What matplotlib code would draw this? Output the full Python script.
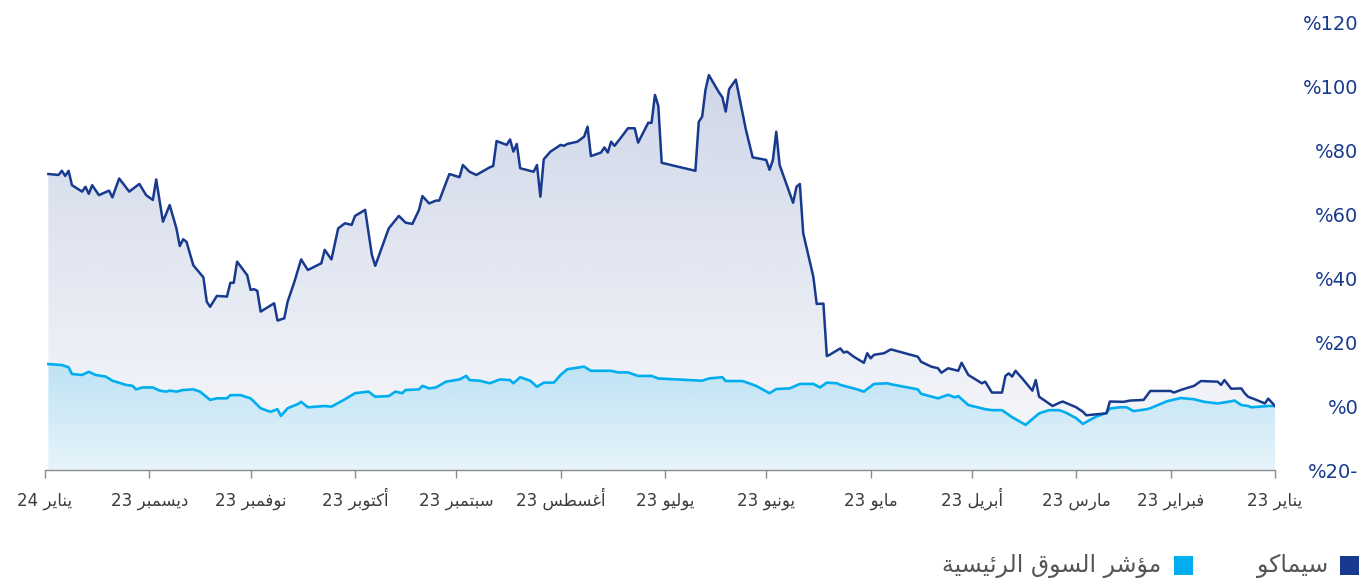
import numpy as np
import matplotlib
matplotlib.use("Agg")
import matplotlib.pyplot as plt
import matplotlib.dates as mdates
from matplotlib.colors import to_rgb
from matplotlib.patches import Rectangle

# ---------------- data (days since 2023-01-01, cumulative % change) ----------------
cemaco_days = [0, 2, 3, 6, 8, 9, 10, 13, 15, 16, 17, 22, 24, 28, 30, 31, 37, 39, 43, 45,
               49, 50, 56, 57, 59, 63, 64, 66, 70, 71, 72, 75, 77, 78, 79, 80, 81, 84, 86, 87,
               91, 93, 94, 97, 99, 100, 102, 105, 106, 114, 116, 119, 120, 121, 122, 125, 127, 128, 129, 132,
               133, 134, 136, 137, 140, 141, 142, 143, 147, 148, 149, 150, 151, 155, 157, 160, 162, 163, 164, 165,
               168, 169, 170, 171, 172, 182, 183, 184, 185, 186, 189, 190, 192, 194, 196, 197, 198, 199, 200, 203,
               204, 205, 207, 210, 211, 212, 215, 217, 218, 219, 220, 224, 225, 226, 227, 228, 231, 232, 233, 237,
               239, 241, 242, 245, 248, 249, 251, 253, 254, 256, 258, 260, 263, 267, 268, 270, 273, 274, 276, 278,
               280, 282, 283, 287, 289, 291, 293, 294, 296, 297, 301, 302, 303, 304, 305, 308, 309, 310, 311, 314,
               316, 317, 318, 321, 323, 324, 325, 326, 328, 330, 332, 333, 335, 337, 340, 343, 345, 346, 349, 351,
               352, 353, 354, 357, 358, 359, 360, 361, 364]
cemaco_vals = [0.0, 2.3, 0.8, 2.1, 2.9, 4.0, 5.5, 5.4, 8.1, 6.6, 7.6, 7.8, 6.3, 5.0, 4.2, 4.7, 4.7, 1.9, 1.7, 1.3,
               1.4, -2.3, -2.9, -1.8, -0.4, 1.4, 1.0, 0.0, 2.9, 8.1, 4.8, 8.6, 11.0, 9.2, 10.2, 9.4, 4.2, 4.2, 7.6, 7.1,
               9.7, 13.5, 11.0, 11.8, 10.4, 11.8, 12.3, 13.8, 15.4, 17.7, 16.5, 16.0, 14.9, 16.5, 13.5, 15.4, 17.0, 16.7, 18.0, 16.1,
               15.6, 32.0, 31.9, 40.4, 54.0, 69.4, 68.5, 63.5, 75.3, 85.7, 76.9, 73.8, 76.9, 77.7, 86.3, 102.0, 99.0, 92.0, 96.5, 98.0,
               103.4, 98.8, 90.4, 88.8, 73.5, 76.0, 93.8, 97.2, 88.5, 88.5, 82.3, 86.8, 86.8, 84.0, 81.3, 82.6, 79.2, 80.8, 79.2, 78.1,
               87.3, 84.2, 82.6, 81.9, 81.3, 81.6, 79.5, 77.1, 65.4, 75.3, 73.2, 74.3, 81.9, 79.5, 83.3, 81.6, 82.8, 75.0, 74.6, 72.2,
               73.2, 75.3, 71.5, 72.5, 64.2, 64.2, 63.3, 65.6, 61.3, 56.9, 57.3, 59.4, 55.5, 43.8, 47.2, 61.3, 59.4, 56.6, 57.1, 55.5,
               45.8, 48.8, 44.6, 42.5, 45.8, 38.8, 32.6, 27.4, 26.7, 32.1, 29.5, 36.0, 36.5, 36.3, 40.9, 45.1, 38.5, 38.5, 34.2, 34.4,
               31.0, 32.6, 40.2, 44.0, 51.3, 52.1, 50.0, 55.5, 62.8, 57.6, 70.8, 64.4, 65.9, 69.4, 67.0, 71.1, 65.2, 67.3, 65.9, 69.0,
               66.3, 68.5, 67.0, 69.0, 73.5, 71.9, 73.5, 72.2, 72.5]

index_days = [0, 2, 7, 8, 10, 12, 14, 17, 21, 24, 28, 32, 37, 38, 42, 44, 46, 49, 50, 53,
              55, 57, 59, 62, 64, 67, 70, 74, 78, 81, 84, 86, 91, 94, 95, 97, 100, 105, 106, 114,
              115, 119, 122, 124, 129, 130, 133, 135, 137, 141, 144, 148, 150, 154, 158, 163, 164, 168, 170, 183,
              185, 189, 192, 195, 197, 203, 205, 210, 212, 214, 217, 219, 221, 224, 226, 227, 230, 233, 236, 239,
              240, 242, 246, 249, 251, 253, 254, 258, 259, 261, 263, 267, 269, 273, 276, 280, 282, 287, 289, 290,
              293, 295, 296, 298, 299, 301, 304, 307, 310, 311, 314, 316, 319, 321, 324, 326, 328, 329, 331, 333,
              336, 338, 339, 341, 344, 345, 347, 350, 352, 354, 357, 358, 360, 364]
index_vals = [0.0, 0.0, -0.4, 0.0, 0.3, 1.7, 1.3, 0.8, 1.3, 2.1, 2.5, 1.5, -0.7, -1.0, -1.6, -0.4, -0.4, -0.8, -2.1, -3.3,
              -4.4, -5.6, -3.8, -2.1, -1.3, -1.3, -2.3, -5.9, -3.5, -1.3, -1.3, -1.0, 0.3, 3.1, 2.7, 3.5, 2.4, 3.8, 5.2, 6.8,
              7.1, 6.9, 4.5, 5.2, 6.6, 7.1, 7.3, 5.8, 6.9, 6.9, 5.5, 5.3, 4.0, 6.3, 7.8, 7.8, 9.0, 8.6, 7.9, 8.6,
              9.4, 9.4, 10.5, 10.5, 11.0, 11.0, 12.3, 11.5, 9.7, 7.3, 7.3, 6.0, 7.9, 9.0, 7.1, 8.1, 8.3, 7.1, 7.9, 8.1,
              9.4, 8.3, 7.6, 5.8, 5.5, 6.3, 5.2, 5.0, 4.0, 4.5, 3.1, 2.9, 4.5, 4.0, 2.1, -0.2, 0.0, -0.4, 1.3, 0.6,
              -0.7, -3.1, -1.0, -1.8, -1.5, -0.7, 2.4, 3.4, 3.4, 2.4, 2.4, 1.9, 4.5, 5.2, 5.0, 4.5, 4.8, 4.5, 4.8, 5.8,
              5.8, 5.2, 6.3, 6.6, 7.6, 7.9, 9.2, 9.7, 10.7, 9.7, 10.0, 12.1, 12.8, 13.1]

month_names = ["يناير", "فبراير", "مارس", "أبريل", "مايو", "يونيو", "يوليو",
               "أغسطس", "سبتمبر", "أكتوبر", "نوفمبر", "ديسمبر", "يناير"]
month_years = ["23"] * 12 + ["24"]
y_ticks = [-20, 0, 20, 40, 60, 80, 100, 120]
series_names = ["سيماكو", "مؤشر السوق الرئيسية"]

# ---------------- minimal Arabic shaping (matplotlib has no shaping / bidi) ----------------
_FORMS = {  # isolated, final, initial, medial
    "ا": (0xFE8D, 0xFE8E, None, None), "أ": (0xFE83, 0xFE84, None, None),
    "ؤ": (0xFE85, 0xFE86, None, None), "ة": (0xFE93, 0xFE94, None, None),
    "د": (0xFEA9, 0xFEAA, None, None), "ر": (0xFEAD, 0xFEAE, None, None),
    "و": (0xFEED, 0xFEEE, None, None),
    "ئ": (0xFE89, 0xFE8A, 0xFE8B, 0xFE8C), "ب": (0xFE8F, 0xFE90, 0xFE91, 0xFE92),
    "ت": (0xFE95, 0xFE96, 0xFE97, 0xFE98), "س": (0xFEB1, 0xFEB2, 0xFEB3, 0xFEB4),
    "ش": (0xFEB5, 0xFEB6, 0xFEB7, 0xFEB8), "ط": (0xFEC1, 0xFEC2, 0xFEC3, 0xFEC4),
    "غ": (0xFECD, 0xFECE, 0xFECF, 0xFED0), "ف": (0xFED1, 0xFED2, 0xFED3, 0xFED4),
    "ق": (0xFED5, 0xFED6, 0xFED7, 0xFED8), "ك": (0xFED9, 0xFEDA, 0xFEDB, 0xFEDC),
    "ل": (0xFEDD, 0xFEDE, 0xFEDF, 0xFEE0), "م": (0xFEE1, 0xFEE2, 0xFEE3, 0xFEE4),
    "ن": (0xFEE5, 0xFEE6, 0xFEE7, 0xFEE8), "ي": (0xFEF1, 0xFEF2, 0xFEF3, 0xFEF4),
}


def ar(text):
    out = []
    for i, ch in enumerate(text):
        if ch not in _FORMS:
            out.append(ch)
            continue
        prev = text[i - 1] if i > 0 else None
        nxt = text[i + 1] if i + 1 < len(text) else None
        jp = prev in _FORMS and _FORMS[prev][2] is not None
        jn = _FORMS[ch][2] is not None and nxt in _FORMS
        f = _FORMS[ch]
        code = f[3] if (jp and jn) else f[1] if jp else f[2] if jn else f[0]
        out.append(chr(code))
    return "".join(reversed(out))


# ---------------- figure ----------------
W, H = 1363, 587
fig = plt.figure(figsize=(W / 100, H / 100), dpi=100)
ax = fig.add_axes([45 / W, 1 - 470 / H, 1230 / W, 448 / H])

navy = "#173a8f"
cyan = "#00aeef"
base = np.datetime64("2023-01-01")
c_dates = base + np.array(cemaco_days).astype("timedelta64[D]")
i_dates = base + np.array(index_days).astype("timedelta64[D]")
YMIN, YMAX = -20, 120


def grad_fill(x, y, color, a_top, a_bot, ytop, z):
    poly = ax.fill_between(x, y, YMIN, facecolor="none", edgecolor="none", zorder=z)
    n = 256
    img = np.zeros((n, 1, 4))
    img[:, 0, :3] = to_rgb(color)
    img[:, 0, 3] = np.linspace(a_bot, a_top, n)
    xn = mdates.date2num(x)
    im = ax.imshow(img, extent=[xn.min(), xn.max(), YMIN, ytop], origin="lower",
                   aspect="auto", zorder=z, interpolation="bilinear")
    im.set_clip_path(poly.get_paths()[0], transform=ax.transData)


grad_fill(c_dates, cemaco_vals, navy, 0.21, 0.03, 105, 1)
grad_fill(i_dates, index_vals, cyan, 0.20, 0.07, 13, 2)

ax.plot(i_dates, index_vals, color=cyan, lw=1.9, zorder=3, solid_joinstyle="round")
ax.plot(c_dates, cemaco_vals, color=navy, lw=1.8, zorder=4, solid_joinstyle="round")

ax.set_ylim(YMIN, YMAX)
ax.set_xlim(np.datetime64("2024-01-01"), np.datetime64("2023-01-01"))

for s in ["top", "left", "right"]:
    ax.spines[s].set_visible(False)
ax.spines["bottom"].set_color("#8a8a8a")
ax.spines["bottom"].set_linewidth(1.0)

# x ticks at month starts
ticks = [np.datetime64("2023-%02d-01" % m) for m in range(1, 13)] + [np.datetime64("2024-01-01")]
ax.set_xticks(ticks)
ax.set_xticklabels([f"{yy} {ar(m)}" for m, yy in zip(month_names, month_years)],
                   fontsize=12, color="#3c3c3c", family="DejaVu Sans")
ax.tick_params(axis="x", length=6, width=1, color="#8a8a8a", pad=20)
for lab in ax.get_xticklabels():
    lab.set_verticalalignment("baseline")

# y ticks on the right, right aligned
ax.yaxis.tick_right()
ax.set_yticks(y_ticks)
ax.set_yticklabels([f"%{abs(v)}" + ("-" if v < 0 else "") for v in y_ticks],
                   fontsize=14, color=navy, family="DejaVu Sans")
ax.tick_params(axis="y", length=0, pad=60)
for lab in ax.get_yticklabels():
    lab.set_horizontalalignment("right")

# legend (manual, right-to-left)
fig.add_artist(Rectangle((1340 / W, 1 - 575 / H), 19 / W, 19 / H, transform=fig.transFigure,
                         facecolor=navy, edgecolor="none"))
fig.text(1328 / W, 1 - 566 / H, ar(series_names[0]), ha="right", va="center",
         fontsize=17, color="#555555", family="DejaVu Sans")
fig.add_artist(Rectangle((1174 / W, 1 - 575 / H), 19 / W, 19 / H, transform=fig.transFigure,
                         facecolor=cyan, edgecolor="none"))
fig.text(1161 / W, 1 - 566 / H, ar(series_names[1]), ha="right", va="center",
         fontsize=17, color="#555555", family="DejaVu Sans")

fig.savefig("out.png", dpi=100)
